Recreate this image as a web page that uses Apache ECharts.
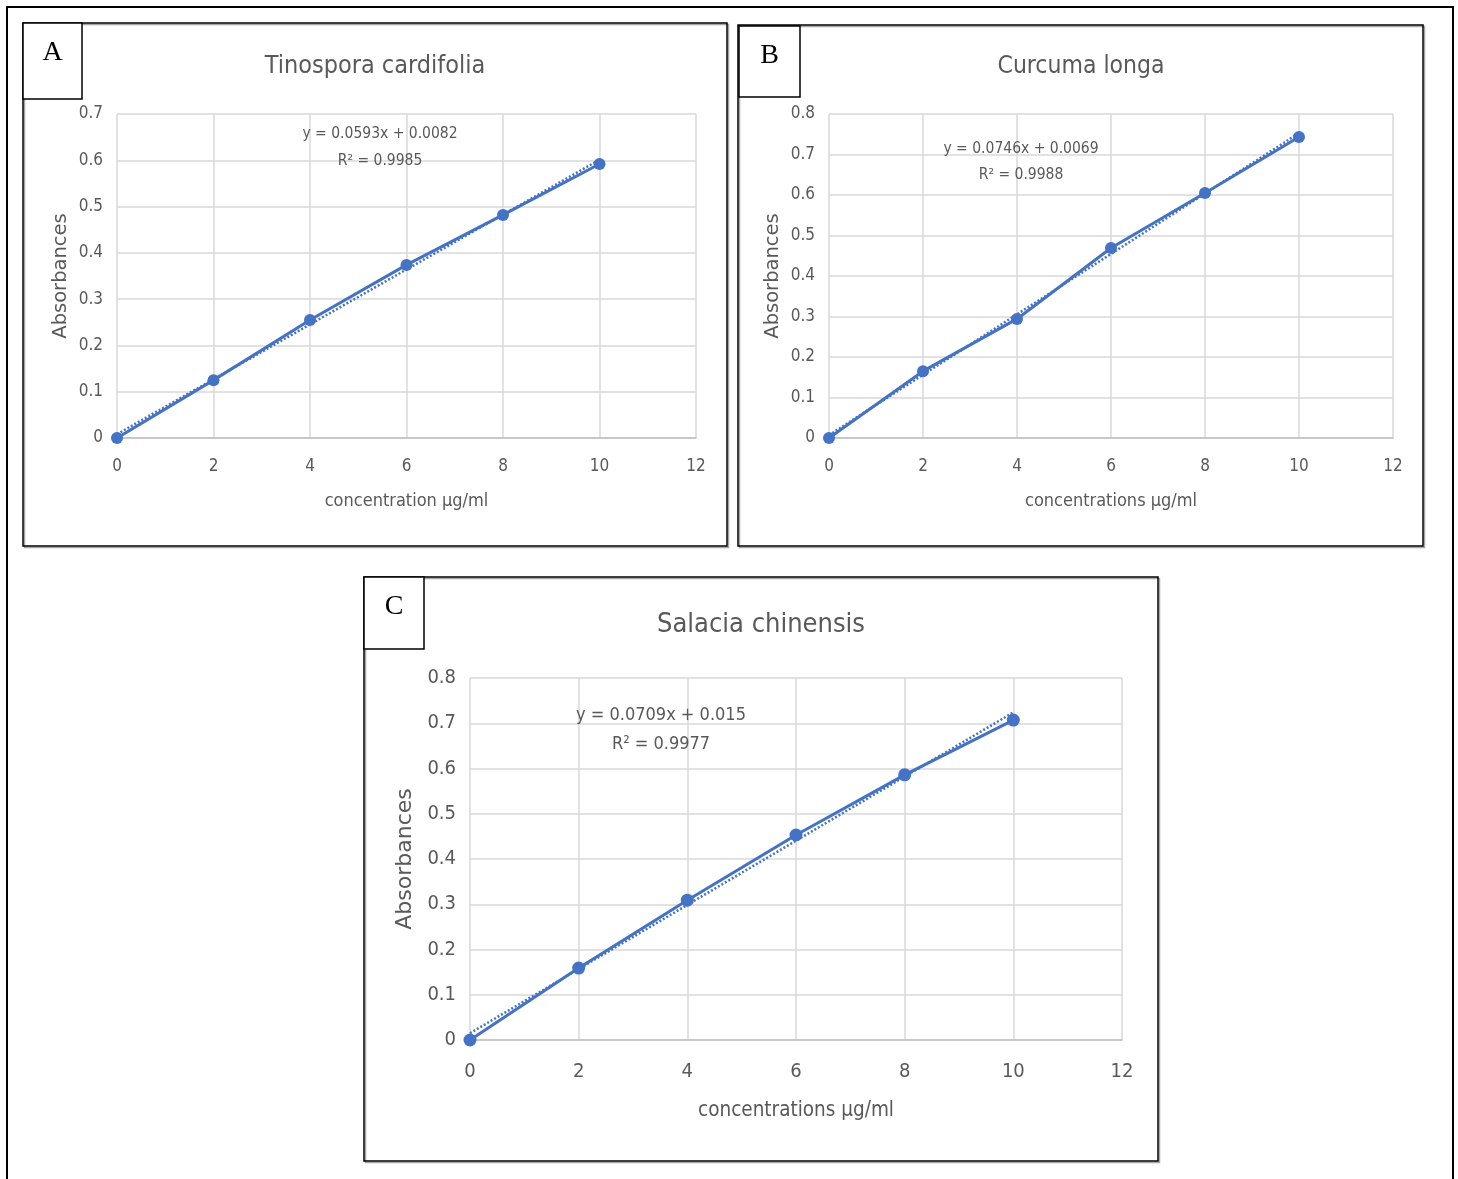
<!DOCTYPE html>
<html>
<head>
<meta charset="utf-8">
<script src="https://cdn.jsdelivr.net/npm/echarts@6/dist/echarts.min.js"></script>
<style>
  html, body { margin: 0; padding: 0; background: #fff; }
  #chart { width: 1458px; height: 1179px; }
</style>
</head>
<body>
<div id="chart"></div>
<script>
// concentrations (µg/ml) shared by all three panels
const conc = [0, 2, 4, 6, 8, 10];

const absTinospora = [0, 0.125, 0.255, 0.374, 0.482, 0.592];
const absCurcuma = [0, 0.165, 0.294, 0.469, 0.605, 0.743];
const absSalacia = [0, 0.159, 0.309, 0.453, 0.586, 0.707];

// linear trendline end points (x = 0 and x = 10)
const trendTinospora = [[0, 0.0082], [10, 0.6012]];
const trendCurcuma = [[0, 0.0069], [10, 0.7529]];
const trendSalacia = [[0, 0.015], [10, 0.724]];

const titles = ["Tinospora cardifolia", "Curcuma longa", "Salacia chinensis"];
const xNames = ["concentration µg/ml", "concentrations µg/ml", "concentrations µg/ml"];
const equations = [
  ["y = 0.0593x + 0.0082", "R² = 0.9985"],
  ["y = 0.0746x + 0.0069", "R² = 0.9988"],
  ["y = 0.0709x + 0.015", "R² = 0.9977"],
];
const yMax = [0.7, 0.8, 0.8];

const BLUE = "#4472c4";
const TXT = "#595959";
const NARROW = "'Liberation Sans Narrow', 'DejaVu Sans Condensed', 'Roboto Condensed', 'Arial Narrow', Roboto, sans-serif";

const chart = echarts.init(document.getElementById("chart"));

const grids = [
  { left: 117, top: 114, right: 762, bottom: 741 },
  { left: 829, top: 114, right: 65, bottom: 741 },
  { left: 470, top: 678, right: 336, bottom: 139 },
];
// font sizes per panel: [tick, axis name, title, equation]
const fs = [
  [17, 18, 25, 15.5],
  [17, 18, 24.5, 15.5],
  [20, 20.5, 27, 18],
];

const xAxes = grids.map((g, i) => ({
  type: "value",
  gridIndex: i,
  min: 0,
  max: 12,
  interval: 2,
  name: xNames[i],
  nameLocation: "middle",
  nameGap: i === 2 ? 60 : 54,
  nameTextStyle: { color: TXT, fontFamily: NARROW, fontSize: fs[i][1] },
  axisLine: { show: true, lineStyle: { color: "#bfbfbf", width: 1.5 } },
  axisTick: { show: false },
  axisLabel: { color: TXT, fontFamily: NARROW, fontSize: fs[i][0], margin: i === 2 ? 22 : 20 },
  splitLine: { show: true, lineStyle: { color: "#d9d9d9", width: 1.5 } },
}));

const yAxes = grids.map((g, i) => ({
  type: "value",
  gridIndex: i,
  min: 0,
  max: yMax[i],
  interval: 0.1,
  name: "Absorbances",
  nameLocation: "middle",
  nameGap: i === 2 ? 54 : 46,
  nameTextStyle: { color: TXT, fontFamily: "'DejaVu Sans', sans-serif", fontSize: i === 2 ? 22 : 19.5 },
  axisLine: { show: false },
  axisTick: { show: false },
  axisLabel: { color: TXT, fontFamily: NARROW, fontSize: fs[i][0], margin: 14 },
  splitLine: { show: true, lineStyle: { color: "#d9d9d9", width: 1.5 } },
}));

const measured = [absTinospora, absCurcuma, absSalacia];
const trends = [trendTinospora, trendCurcuma, trendSalacia];

const series = [];
measured.forEach((vals, i) => {
  series.push({
    type: "line",
    xAxisIndex: i,
    yAxisIndex: i,
    data: trends[i],
    symbol: "none",
    lineStyle: { color: BLUE, width: 2.5, type: [2, 2] },
    z: 2,
  });
  series.push({
    type: "line",
    xAxisIndex: i,
    yAxisIndex: i,
    data: conc.map((c, k) => [c, vals[k]]),
    symbol: "circle",
    symbolSize: i === 2 ? 13 : 12,
    itemStyle: { color: BLUE },
    lineStyle: { color: BLUE, width: 3 },
    z: 3,
  });
});

// panel frames, letter boxes and equation labels
const panels = [
  { box: [23, 23, 704, 523], tag: [23, 23, 59, 76], letter: "A", title: [375, 66], eq: [380, 134, 161] },
  { box: [738, 25, 685, 521], tag: [739, 26, 61, 71], letter: "B", title: [1081, 67], eq: [1021, 149, 175] },
  { box: [364, 577, 794, 584], tag: [364, 577, 60, 72], letter: "C", title: [761, 625], eq: [661, 715, 744] },
];

const graphic = [
  {
    type: "rect",
    shape: { x: 7, y: 7, width: 1446, height: 1180 },
    style: { fill: null, stroke: "#000", lineWidth: 2 },
  },
];
panels.forEach((p, i) => {
  graphic.push({
    type: "rect",
    shape: { x: p.box[0] + 1.5, y: p.box[1] + 1.5, width: p.box[2], height: p.box[3] },
    style: { fill: null, stroke: "#a6a6a6", lineWidth: 1.5 },
    z: 1,
  });
  graphic.push({
    type: "rect",
    shape: { x: p.box[0], y: p.box[1], width: p.box[2], height: p.box[3] },
    style: { fill: null, stroke: "#000", lineWidth: 1.5 },
    z: 2,
  });
  graphic.push({
    type: "rect",
    shape: { x: p.tag[0], y: p.tag[1], width: p.tag[2], height: p.tag[3] },
    style: { fill: "#fff", stroke: "#000", lineWidth: 1.5 },
    z: 3,
  });
  graphic.push({
    type: "text",
    x: p.tag[0] + p.tag[2] / 2,
    y: p.tag[1] + 30,
    style: {
      text: p.letter,
      fill: "#000",
      font: "28px 'Liberation Serif', serif",
      align: "center",
      verticalAlign: "middle",
    },
    z: 4,
  });
  graphic.push({
    type: "text",
    x: p.title[0],
    y: p.title[1],
    style: {
      text: titles[i],
      fill: TXT,
      font: fs[i][2] + "px " + NARROW,
      align: "center",
      verticalAlign: "middle",
    },
    z: 4,
  });
  graphic.push({
    type: "text",
    x: p.eq[0],
    y: p.eq[1],
    style: {
      text: equations[i][0],
      fill: TXT,
      font: fs[i][3] + "px " + NARROW,
      align: "center",
      verticalAlign: "middle",
    },
    z: 4,
  });
  graphic.push({
    type: "text",
    x: p.eq[0],
    y: p.eq[2],
    style: {
      text: equations[i][1],
      fill: TXT,
      font: fs[i][3] + "px " + NARROW,
      align: "center",
      verticalAlign: "middle",
    },
    z: 4,
  });
});

chart.setOption({
  animation: false,
  backgroundColor: "#fff",
  grid: grids,
  xAxis: xAxes,
  yAxis: yAxes,
  series: series,
  graphic: graphic,
});
</script>
</body>
</html>
